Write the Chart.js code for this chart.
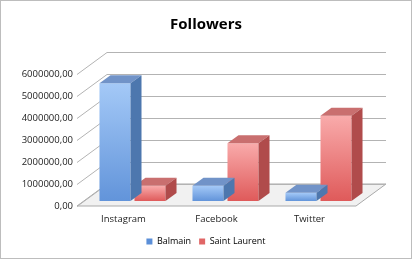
<!DOCTYPE html>
<html>
<head>
<meta charset="utf-8">
<script src="https://cdn.jsdelivr.net/npm/chart.js@4"></script>
<style>
  html, body { margin: 0; padding: 0; background: #fff; }
  #wrap { width: 412px; height: 259px; position: relative; }
</style>
</head>
<body>
<div id="wrap"><canvas id="followers-chart"></canvas></div>
<script>
const categories = ["Instagram", "Facebook", "Twitter"];
const balmain = [5350000, 690000, 370000];
const saintLaurent = [690000, 2630000, 3880000];
const yMin = 0;
const yMax = 6000000;
const yStep = 1000000;

// oblique depth of the walls / floor, and of the bars
const WALL = { dx: 30, dy: 22 };
const BAR_SHIFT = { dx: 9, dy: -5 };
const BAR_DEPTH = { dx: 11, dy: 8 };

const palette = {
  Balmain: { light: "#a4c9f7", dark: "#6294da", top: "#7193c8", side: "#4d77ae", legend: "#5b8fd8" },
  "Saint Laurent": { light: "#f9abab", dark: "#df5a5a", top: "#c96f6f", side: "#b04b4b", legend: "#e06666" },
};

function frontFill(name) {
  return (ctx) => {
    const chart = ctx.chart;
    const y = chart.scales.y;
    const c = palette[name];
    if (!y || ctx.raw === undefined) return c.dark;
    const top = y.getPixelForValue(ctx.raw);
    const base = y.getPixelForValue(0);
    if (!isFinite(top) || base - top < 1) return c.dark;
    const g = chart.ctx.createLinearGradient(0, top, 0, base);
    g.addColorStop(0, c.light);
    g.addColorStop(1, c.dark);
    return g;
  };
}

const frame3d = {
  id: "frame3d",
  beforeDraw(chart) {
    const ctx = chart.ctx;
    ctx.save();
    ctx.strokeStyle = "#bdbdbd";
    ctx.lineWidth = 1;
    ctx.strokeRect(0.5, 0.5, chart.width - 1, chart.height - 1);
    ctx.restore();
  },
  beforeDatasetsDraw(chart) {
    const ctx = chart.ctx;
    const { left, right } = chart.chartArea;
    const y = chart.scales.y;
    const base = y.getPixelForValue(0);
    ctx.save();
    // floor
    ctx.beginPath();
    ctx.moveTo(left, base);
    ctx.lineTo(right, base);
    ctx.lineTo(right + WALL.dx, base - WALL.dy);
    ctx.lineTo(left + WALL.dx, base - WALL.dy);
    ctx.closePath();
    ctx.fillStyle = "#f1f1f1";
    ctx.fill();
    ctx.strokeStyle = "#a9a9a9";
    ctx.lineWidth = 1;
    ctx.stroke();
    // side wall diagonals and back wall gridlines
    ctx.strokeStyle = "#b3b3b3";
    y.ticks.forEach((t) => {
      const py = Math.round(y.getPixelForValue(t.value)) + 0.5;
      ctx.beginPath();
      ctx.moveTo(left, py);
      ctx.lineTo(left + WALL.dx, py - WALL.dy);
      ctx.lineTo(right + WALL.dx, py - WALL.dy);
      ctx.stroke();
    });
    ctx.restore();
    ctx.save();
    ctx.translate(BAR_SHIFT.dx, BAR_SHIFT.dy);
  },
  afterDatasetDraw(chart, args) {
    const ctx = chart.ctx;
    const ds = chart.data.datasets[args.index];
    const c = palette[ds.label];
    args.meta.data.forEach((bar) => {
      const p = bar.getProps(["x", "y", "base", "width"], true);
      const l = p.x - p.width / 2;
      const r = p.x + p.width / 2;
      const t = p.y;
      const b = p.base;
      // top face
      ctx.beginPath();
      ctx.moveTo(l, t);
      ctx.lineTo(r, t);
      ctx.lineTo(r + BAR_DEPTH.dx, t - BAR_DEPTH.dy);
      ctx.lineTo(l + BAR_DEPTH.dx, t - BAR_DEPTH.dy);
      ctx.closePath();
      ctx.fillStyle = c.top;
      ctx.fill();
      // side face
      ctx.beginPath();
      ctx.moveTo(r, t);
      ctx.lineTo(r + BAR_DEPTH.dx, t - BAR_DEPTH.dy);
      ctx.lineTo(r + BAR_DEPTH.dx, b - BAR_DEPTH.dy);
      ctx.lineTo(r, b);
      ctx.closePath();
      ctx.fillStyle = c.side;
      ctx.fill();
    });
  },
  afterDatasetsDraw(chart) {
    chart.ctx.restore();
  },
};

Chart.defaults.font.family = "'Open Sans', sans-serif";
Chart.defaults.color = "#222";

const canvas = document.getElementById("followers-chart");
new Chart(canvas, {
  type: "bar",
  data: {
    labels: categories,
    datasets: [
      { label: "Balmain", data: balmain, backgroundColor: frontFill("Balmain") },
      { label: "Saint Laurent", data: saintLaurent, backgroundColor: frontFill("Saint Laurent") },
    ],
  },
  options: {
    responsive: true,
    maintainAspectRatio: false,
    animation: false,
    categoryPercentage: 0.753,
    barPercentage: 0.886,
    layout: { padding: { left: 0, right: 0, top: 0, bottom: 3 } },
    plugins: {
      title: {
        display: true,
        text: "Followers",
        color: "#000",
        font: { size: 15, weight: "bold" },
        padding: { top: 16, bottom: 40 },
      },
      legend: {
        position: "bottom",
        labels: {
          boxWidth: 6,
          boxHeight: 6,
          padding: 8,
          font: { size: 9 },
          generateLabels(chart) {
            return chart.data.datasets.map((ds, i) => ({
              text: ds.label,
              fillStyle: palette[ds.label].legend,
              strokeStyle: palette[ds.label].legend,
              lineWidth: 0,
              hidden: false,
              datasetIndex: i,
            }));
          },
        },
      },
      tooltip: { enabled: false },
    },
    scales: {
      x: {
        grid: { display: false, drawTicks: false },
        border: { display: false },
        ticks: { padding: 8, font: { size: 9.5 } },
        afterFit(scale) { scale.height = 23; },
      },
      y: {
        min: yMin,
        max: yMax,
        grid: { display: false, drawTicks: false },
        border: { display: false },
        ticks: {
          stepSize: yStep,
          padding: 4,
          font: { size: 9.5 },
          callback: (v) => Number(v).toFixed(2).replace(".", ","),
        },
        afterFit(scale) { scale.width = 77; },
      },
      // empty right-hand space for the depth of the back wall
      depth: {
        position: "right",
        display: true,
        grid: { display: false, drawTicks: false },
        border: { display: false },
        ticks: { display: false },
        afterFit(scale) { scale.width = 56; },
      },
    },
  },
  plugins: [frame3d],
});
</script>
</body>
</html>
